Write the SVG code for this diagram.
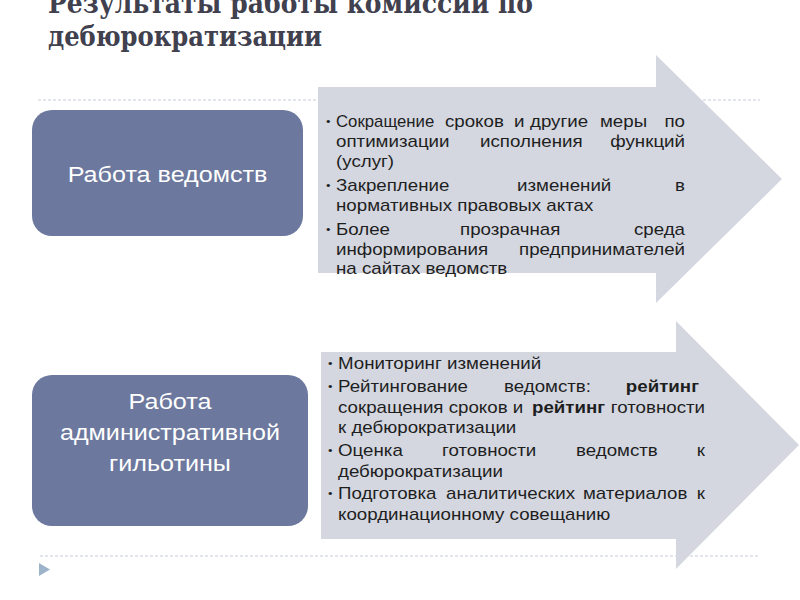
<svg xmlns="http://www.w3.org/2000/svg" width="800" height="600" viewBox="0 0 800 600">
<style>
.title{font-family:"DejaVu Serif","Liberation Serif",serif;font-weight:bold;font-size:28px;fill:#40404e}
.dots{stroke:#c5ccd6;stroke-width:1.2;stroke-dasharray:3 2;fill:none}
.arrow{fill:#d4d7e0}
.box{fill:#6c789d}
.boxtxt{font-family:"Liberation Sans",Arial,sans-serif;font-size:21.5px;fill:#ffffff;text-anchor:middle}
.t{font-family:"Liberation Sans",Arial,sans-serif;font-size:16px;fill:#1e1e1e}
.b{font-family:"Liberation Sans",Arial,sans-serif;font-size:16px;fill:#1e1e1e}
.e{text-anchor:end}
.bold{font-weight:bold}
.bul{font-size:11px}
</style>
<rect width="800" height="600" fill="#ffffff"/>
<g id="title">
<text class="title" x="48" y="13" textLength="485" lengthAdjust="spacingAndGlyphs">Результаты работы комиссии по</text>
<text class="title" x="48" y="46" textLength="274" lengthAdjust="spacingAndGlyphs">дебюрократизации</text>
</g>
<g id="rules">
<line class="dots" x1="38" y1="100" x2="760" y2="100"/>
<line class="dots" x1="40" y1="556" x2="760" y2="556"/>
<polygon points="39,563 50,569.5 39,576" fill="#9db3c9"/>
</g>
<g id="arrow1">
<polygon class="arrow" points="318,87 656,87 656,55 782,179 656,303 656,273 318,273"/>
</g>
<g id="arrow2">
<polygon class="arrow" points="321,352 676,352 676,321 799,445 676,569 676,539 321,539"/>
</g>
<g id="node1">
<rect class="box" x="32" y="110" width="271" height="126" rx="20" ry="20"/>
<g transform="scale(1.17 1)"><text class="boxtxt" x="143.2" y="182">Работа ведомств</text></g>
</g>
<g id="node2">
<rect class="box" x="32" y="375" width="276" height="151" rx="20" ry="20"/>
<g transform="scale(1.17 1)">
<text class="boxtxt" x="145.3" y="409">Работа</text>
<text class="boxtxt" x="145.3" y="440">административной</text>
<text class="boxtxt" x="145.3" y="471">гильотины</text>
</g>
</g>
<g id="text1" transform="scale(1.17 1)">
<text class="t bul" x="278.6" y="125">•</text>
<text class="t" x="287.2" y="127" textLength="84" lengthAdjust="spacingAndGlyphs">Сокращение</text>
<text class="t" y="127"><tspan x="380.3">сроков</tspan><tspan x="439.3">и</tspan><tspan x="453">другие</tspan><tspan x="512.8">меры</tspan></text>
<text class="t e" x="585.5" y="127">по</text>
<text class="t" y="147"><tspan x="287.2">оптимизации</tspan><tspan x="410.3">исполнения</tspan></text>
<text class="t e" x="585.5" y="147">функций</text>
<text class="t" x="287.2" y="167">(услуг)</text>
<text class="t bul" x="278.6" y="189">•</text>
<text class="t" y="191"><tspan x="287.2">Закрепление</tspan><tspan x="441.9">изменений</tspan></text>
<text class="t e" x="585.5" y="191">в</text>
<text class="t" x="287.2" y="211">нормативных правовых актах</text>
<text class="t bul" x="278.6" y="233">•</text>
<text class="t" y="235"><tspan x="287.2">Более</tspan><tspan x="393.2">прозрачная</tspan></text>
<text class="t e" x="585.5" y="235">среда</text>
<text class="t" x="287.2" y="255">информирования</text>
<text class="t e" x="585.5" y="255">предпринимателей</text>
<text class="t" x="287.2" y="274">на сайтах ведомств</text>
</g>
<g id="text2" transform="scale(1.17 1)">
<text class="b bul" x="280.3" y="367">•</text>
<text class="b" x="288.9" y="369">Мониторинг изменений</text>
<text class="b bul" x="280.3" y="390">•</text>
<text class="b" y="392"><tspan x="288.9">Рейтингование</tspan><tspan x="430.8">ведомств:</tspan></text>
<text class="b e bold" x="597.4" y="392">рейтинг</text>
<text class="b" x="288.9" y="413">сокращения сроков и</text>
<text class="b bold" x="454.7" y="413">рейтинг</text>
<text class="b e" x="602.6" y="413">готовности</text>
<text class="b" x="288.9" y="433">к дебюрократизации</text>
<text class="b bul" x="280.3" y="454">•</text>
<text class="b" y="456"><tspan x="288.9">Оценка</tspan><tspan x="377.8">готовности</tspan><tspan x="492.3">ведомств</tspan></text>
<text class="b e" x="602.6" y="456">к</text>
<text class="b" x="288.9" y="477">дебюрократизации</text>
<text class="b bul" x="280.3" y="497">•</text>
<text class="b" y="499"><tspan x="288.9">Подготовка</tspan><tspan x="381.2">аналитических</tspan><tspan x="498.3">материалов</tspan></text>
<text class="b e" x="602.6" y="499">к</text>
<text class="b" x="288.9" y="520">координационному совещанию</text>
</g>
</svg>
